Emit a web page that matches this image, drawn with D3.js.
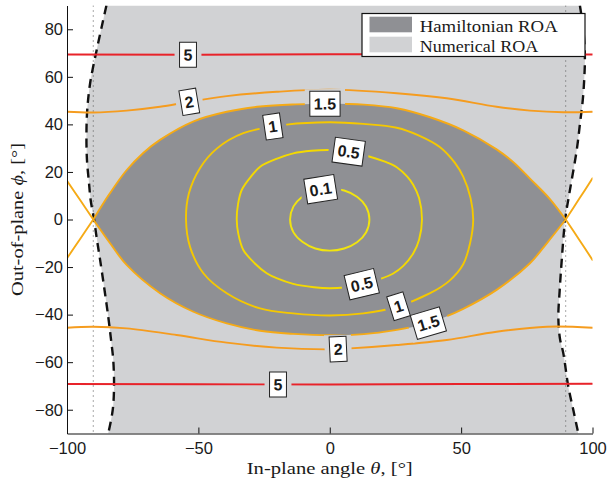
<!DOCTYPE html>
<html>
<head>
<meta charset="utf-8">
<script src="https://cdn.jsdelivr.net/npm/d3@7"></script>
<style>
  html, body { margin: 0; padding: 0; background: #fff; }
  svg { display: block; }
</style>
</head>
<body>
<svg id="chart" width="608" height="483"></svg>
<script>
// ---- axis ticks ----
const thetaTicks = [-100, -50, 0, 50, 100];
const phiTicks = [-80, -60, -40, -20, 0, 20, 40, 60, 80];

// ---- contour levels of the Hamiltonian ----
const levels = [0.1, 0.5, 1, 1.5, 2, 5];

// closed level curves [theta, phi] in degrees
const contour01 = [[0,13.0],[5.5,12.2],[10.5,9.5],[13.8,5.5],[15.1,0],[13.8,-5.5],[10.4,-9.6],[5.5,-12.2],[0,-13.1],
  [-5.5,-12.2],[-10.3,-9.5],[-13.8,-5.4],[-15.1,0],[-13.8,5.5],[-10.8,9.3],[-5.6,12.2]];
const contour05 = [[0,29.2],[8,28.4],[15.3,26.4],[21,24.3],[25.5,22.0],[29.5,18.0],[31.8,14.5],[34,9],[35.1,0],
  [34,-8.5],[31.8,-14.2],[28,-19.5],[24,-22.8],[19.1,-25.0],[12.2,-27.2],[6,-28.5],[0,-28.9],[-6,-28.5],
  [-13.9,-27.1],[-20,-24.8],[-24,-22.6],[-28.5,-18.5],[-32.9,-12.8],[-34.8,-6],[-35.4,0],[-34.9,6.5],
  [-33.5,12.4],[-30,18],[-26.5,22.2],[-20,25.6],[-13.9,27.8],[-7,28.9]];
const contour1 = [[0,40.9],[12.8,40.2],[25.5,38.6],[34,35.3],[42.0,30.4],[47.5,24],[50.8,18.0],[53.6,9],[54.6,0],
  [53.4,-10],[50.8,-18.8],[45.5,-25.8],[38.2,-31.0],[25.5,-36.7],[12.8,-39.5],[0,-40.4],[-13.9,-39.5],
  [-26.5,-37.4],[-39.2,-31.0],[-48.1,-22.6],[-53.2,-11.4],[-54.7,0],[-53.6,11],[-49.4,21.6],[-43.0,29.8],
  [-32.9,36.3],[-16.4,39.9]];

// separatrix (level 1.5) between the two saddles
const sepUpper = [[-90,0],[-84,10.5],[-77.5,20.5],[-71,28],[-64.6,33.5],[-52,41.2],[-39.2,45.3],[-26.5,47.5],
  [-13,48.4],[0,48.7],[13,48.3],[25.5,46.8],[38.2,43],[50.8,37.5],[63.5,29.5],[70,24],[76.2,17.2],[83.8,8.6],[89.8,0]];
const sepLower = [[-90,0],[-83.6,-10.0],[-77.3,-19.1],[-64.6,-31.0],[-51.9,-38.8],[-39.2,-43.7],[-26.5,-46.8],
  [-13.9,-48.1],[0,-48.7],[13,-48.2],[25,-46.5],[36.9,-43.8],[43.9,-41.0],[50.8,-37.6],[63.5,-29.6],
  [76.2,-18.4],[82.6,-10.0],[89.8,0]];
// separatrix branches beyond the saddles
const sepOuter = [
  [[-100,16.3],[-95,8.2],[-90,0]],
  [[-90,0],[-95,-8.2],[-100,-16.3]],
  [[89.8,0],[95,8.8],[100,17.3]],
  [[89.8,0],[95,-8.6],[100,-17.0]]
];

// open level curves spanning the whole range
const contour2Upper = [[-100,45.3],[-90,45.0],[-77.3,45.8],[-64.6,47.4],[-53.5,49.5],[-39.2,51.9],[-20.2,53.7],
  [0,54.6],[25.5,53.1],[44.5,51.0],[63.5,47.4],[76.2,45.8],[88.9,45.1],[100,45.3]];
const contour2Lower = [[-100,-45.5],[-90,-45.1],[-77.3,-45.8],[-58.3,-48.6],[-39.2,-51.8],[-20.2,-53.9],
  [0,-54.6],[6.4,-54.3],[25.5,-52.8],[44.5,-50.7],[63.5,-47.2],[82.6,-45.1],[100,-45.5]];
const contour5Upper = [[-100,69.4],[-50,69.3],[0,69.5],[50,69.5],[100,69.4]];
const contour5Lower = [[-100,-69.2],[-50,-69.3],[0,-69.4],[50,-69.2],[100,-69.1]];

// numerically found region of attraction: left and right boundaries (top to bottom)
const roaLeft = [[-85.0,90],[-86.6,82],[-88.7,71.3],[-91.2,57.3],[-92.3,46.0],[-92.6,36],[-92.4,25],[-91.6,15],
  [-91.0,8.2],[-89.7,0],[-88.6,-8.5],[-87.4,-17],[-85.8,-29],[-84.3,-40.9],[-83.3,-50],[-82.4,-59.1],
  [-82.1,-70.3],[-82.6,-80.1],[-84.3,-90]];
const roaRight = [[95.2,90],[96.5,80],[97.1,68.5],[96.9,60],[96.3,50.3],[95.2,40],[94.0,29.2],[91.2,11.0],
  [89.6,0],[88.3,-17.0],[87.5,-30],[87.0,-41],[87.6,-50],[88.9,-56.3],[90.8,-70.3],[92.7,-80.1],[94.6,-90]];

// saddle abscissae marked by dotted lines
const saddleTheta = [-90, 89.8];

// inline contour labels: level, and approximate [theta, phi] where each sits
const labelLevels = ["5", "5", "2", "2", "1.5", "1.5", "1", "1", "0.5", "0.5", "0.1"];
const labelAnchors = [[-53.9,69.4],[-19.7,-69.3],[-53.5,49.5],[3.1,-54.6],[-1.8,48.7],[37.5,-43.5],
  [-21.5,38.5],[26.1,-36.5],[7.1,28.0],[12.2,-27.0],[-3.5,12.9]];

// ---- layout ----
const margin = {left: 67, top: 5.5};
const W = 525.5, H = 428;

const colors = {
  0.1: "#f1e40f", 0.5: "#f4d900", 1: "#f5c800", 1.5: "#f5aa16", 2: "#f59c1f", 5: "#e8232a"
};

const svg = d3.select("#chart");
const g = svg.append("g").attr("transform", `translate(${margin.left},${margin.top})`);

const x = d3.scaleLinear().domain([-100, 100]).range([0, W]);
const y = d3.scaleLinear().domain([-90, 90]).range([H, 0]);

const defs = svg.append("defs");
defs.append("clipPath").attr("id", "plotClip")
  .append("rect").attr("x", 0).attr("y", 0).attr("width", W).attr("height", H);
const mask = defs.append("mask").attr("id", "labelGaps").attr("maskUnits", "userSpaceOnUse")
  .attr("x", -20).attr("y", -20).attr("width", W + 40).attr("height", H + 40);
mask.append("rect").attr("x", -20).attr("y", -20).attr("width", W + 40).attr("height", H + 40).attr("fill", "#fff");

const lineSmooth = d3.line().x(d => x(d[0])).y(d => y(d[1])).curve(d3.curveCatmullRom.alpha(0.5));
const lineClosed = d3.line().x(d => x(d[0])).y(d => y(d[1])).curve(d3.curveCatmullRomClosed.alpha(0.5));
const lineStraight = d3.line().x(d => x(d[0])).y(d => y(d[1]));

// axes drawn first so the filled regions sit over the bottom spine
const xAxis = d3.axisBottom(x).tickValues(thetaTicks).tickSizeInner(-6).tickSizeOuter(0).tickPadding(9)
  .tickFormat(d3.format("d"));
const yAxis = d3.axisLeft(y).tickValues(phiTicks).tickSizeInner(-6).tickSizeOuter(0).tickPadding(4)
  .tickFormat(d3.format("d"));

const plot = g.append("g").attr("clip-path", "url(#plotClip)");

// numerical ROA
const leftPath = lineSmooth(roaLeft);
const rightPath = lineSmooth(roaRight.slice().reverse());
plot.append("path")
  .attr("d", leftPath + rightPath.replace(/^M/, "L") + "Z")
  .attr("fill", "#d1d2d4");

// Hamiltonian ROA (inside the separatrix)
const upPath = lineSmooth(sepUpper);
const lowPath = lineSmooth(sepLower.slice().reverse());
plot.append("path")
  .attr("d", upPath + lowPath.replace(/^M/, "L") + "Z")
  .attr("fill", "#8f9094");

// dotted saddle lines
plot.selectAll("line.saddle").data(saddleTheta).join("line")
  .attr("class", "saddle")
  .attr("x1", d => x(d)).attr("x2", d => x(d))
  .attr("y1", 0).attr("y2", H)
  .attr("stroke", "#555").attr("stroke-width", 1).attr("stroke-dasharray", "1,4");

// dashed ROA boundaries
[roaLeft, roaRight].forEach(b => {
  plot.append("path").attr("d", lineSmooth(b))
    .attr("fill", "none").attr("stroke", "#111").attr("stroke-width", 2.4)
    .attr("stroke-dasharray", "9,6");
});

// level curves
const cg = plot.append("g").attr("mask", "url(#labelGaps)")
  .attr("fill", "none").attr("stroke-linejoin", "round").attr("stroke-linecap", "round");

const curves = {};
function addCurve(key, level, d) {
  const p = cg.append("path").attr("d", d)
    .attr("stroke", colors[level]).attr("stroke-width", 1.9);
  (curves[key] = curves[key] || []).push(p.node());
}
addCurve("0.1", 0.1, lineClosed(contour01));
addCurve("0.5", 0.5, lineClosed(contour05));
addCurve("1", 1, lineClosed(contour1));
addCurve("1.5", 1.5, lineSmooth(sepUpper));
addCurve("1.5", 1.5, lineSmooth(sepLower));
sepOuter.forEach(s => addCurve("1.5x", 1.5, lineSmooth(s)));
addCurve("2", 2, lineSmooth(contour2Upper));
addCurve("2", 2, lineSmooth(contour2Lower));
addCurve("5", 5, lineStraight(contour5Upper));
addCurve("5", 5, lineStraight(contour5Lower));

// inline labels
const lg = g.append("g");
labelLevels.forEach((lab, i) => {
  const ax = x(labelAnchors[i][0]), ay = y(labelAnchors[i][1]);
  let best = null;
  curves[lab].forEach(node => {
    const L = node.getTotalLength();
    for (let l = 0; l <= L; l += 0.5) {
      const p = node.getPointAtLength(l);
      const dd = (p.x - ax) ** 2 + (p.y - ay) ** 2;
      if (!best || dd < best.dd) best = {dd, l, node, L};
    }
  });
  const p = best.node.getPointAtLength(best.l);
  const a = best.node.getPointAtLength(Math.max(0, best.l - 5));
  const b = best.node.getPointAtLength(Math.min(best.L, best.l + 5));
  let ang = Math.atan2(b.y - a.y, b.x - a.x) * 180 / Math.PI;
  if (ang > 90) ang -= 180;
  if (ang < -90) ang += 180;

  const grp = lg.append("g").attr("transform", `translate(${p.x},${p.y}) rotate(${ang})`);
  const rect = grp.append("rect");
  const t = grp.append("text").text(lab)
    .attr("text-anchor", "middle").attr("dy", "0.36em")
    .attr("font-family", "Liberation Sans, Arial, sans-serif")
    .attr("font-weight", "bold").attr("font-size", 16).attr("fill", "#1a1a1a");
  const tw = t.node().getComputedTextLength();
  const bw = tw + 8, bh = 25;
  rect.attr("x", -bw / 2).attr("y", -bh / 2).attr("width", bw).attr("height", bh)
    .attr("fill", "#fff").attr("stroke", "#222").attr("stroke-width", 1);
  mask.append("rect")
    .attr("x", -bw / 2 - 5).attr("y", -bh / 2 - 2).attr("width", bw + 10).attr("height", bh + 4)
    .attr("fill", "#000")
    .attr("transform", `translate(${p.x},${p.y}) rotate(${ang})`);
});

// axes
const gx = g.append("g").attr("transform", `translate(0,${H})`).call(xAxis);
const gy = g.append("g").call(yAxis);
[gx, gy].forEach(ax => {
  ax.selectAll("text").attr("font-family", "Liberation Sans, Arial, sans-serif")
    .attr("font-size", 16.5).attr("fill", "#1a1a1a");
  ax.select(".domain").attr("stroke", "#111");
  ax.selectAll(".tick line").attr("stroke", "#111");
});

// axis titles
const xt = svg.append("text")
  .attr("x", margin.left + x(0)).attr("y", 474)
  .attr("text-anchor", "middle")
  .attr("font-family", "Liberation Serif, Times New Roman, serif")
  .attr("font-size", 17.5).attr("fill", "#1a1a1a")
  .attr("textLength", 166).attr("lengthAdjust", "spacingAndGlyphs");
xt.append("tspan").text("In-plane angle ");
xt.append("tspan").attr("font-style", "italic").text("θ");
xt.append("tspan").text(", [°]");

const yt = svg.append("text")
  .attr("transform", `translate(23,${margin.top + y(0)}) rotate(-90)`)
  .attr("text-anchor", "middle")
  .attr("font-family", "Liberation Serif, Times New Roman, serif")
  .attr("font-size", 17.5).attr("fill", "#1a1a1a")
  .attr("textLength", 153).attr("lengthAdjust", "spacingAndGlyphs");
yt.append("tspan").text("Out-of-plane ");
yt.append("tspan").attr("font-style", "italic").text("ϕ");
yt.append("tspan").text(", [°]");

// legend
const legendItems = ["Hamiltonian ROA", "Numerical ROA"];
const legendFill = ["#8f9094", "#d1d2d4"];
const legendWidths = [138, 118.5];
const leg = svg.append("g").attr("transform", "translate(362,13.5)");
leg.append("rect").attr("width", 223).attr("height", 43)
  .attr("fill", "#fff").attr("stroke", "#111").attr("stroke-width", 1.2);
legendItems.forEach((name, i) => {
  leg.append("rect").attr("x", 7.5).attr("y", 3.2 + i * 20).attr("width", 42.5).attr("height", 15.6)
    .attr("fill", legendFill[i]);
  leg.append("text").attr("x", 57.7).attr("y", 18.8 + i * 20).text(name)
    .attr("font-family", "Liberation Serif, Times New Roman, serif")
    .attr("font-size", 17.5).attr("fill", "#1a1a1a")
    .attr("textLength", legendWidths[i]).attr("lengthAdjust", "spacingAndGlyphs");
});
</script>
</body>
</html>
